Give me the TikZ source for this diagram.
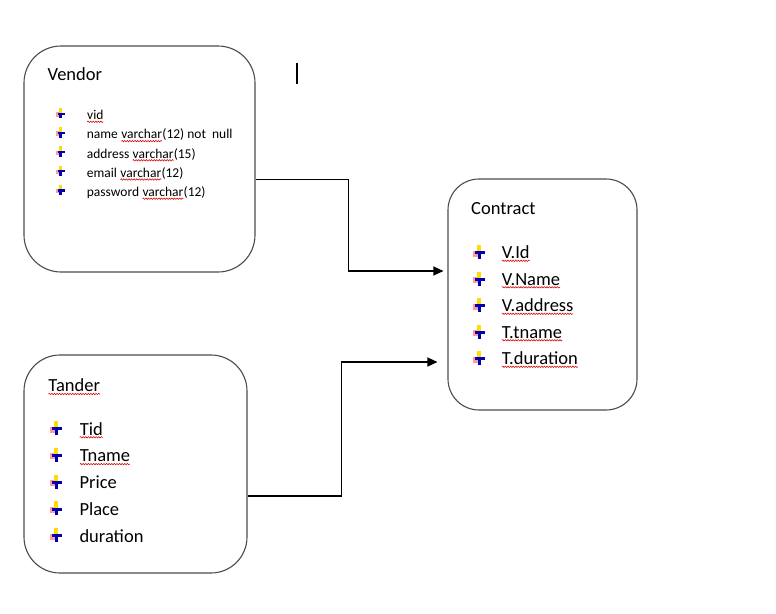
\documentclass[tikz,border=0pt]{standalone}
\usepackage{fontspec}
\setmainfont{Carlito}
\usetikzlibrary{arrows.meta,decorations.pathmorphing}
\tikzset{
  box/.style={draw=black!70, line width=1.1pt, inner sep=0pt},
  conn/.style={draw=black, line width=1.3pt},
  tip/.style={-{Triangle[length=10pt,width=9pt]}},
  big/.style={font=\fontsize{18.5}{22}\selectfont, anchor=base west, inner sep=0pt},
  small/.style={font=\fontsize{13.5}{16}\selectfont, anchor=base west, inner sep=0pt},
  sqline/.style={draw=red!85!black, line width=0.55pt, decorate,
    decoration={snake, amplitude=0.7pt, segment length=2.6pt}},
  bul/.pic={
    \fill[red!45, opacity=0.85] (-6.5,-2) rectangle (-1.5,4);
    \fill[yellow!80!orange] (-1.6,-7.5) rectangle (1.6,0);
    \fill[blue!70!black] (-4,-1.3) rectangle (5.5,1.7);
    \fill[blue!70!black] (-1.5,0) rectangle (1.5,6.5);
  }
}
\newcommand\sq[1]{\tikz[baseline=(sqw.base)]{\node[inner sep=0pt,outer sep=0pt,anchor=base] (sqw) {#1};\path[sqline] ([yshift=-2.3pt]sqw.base west) -- ([yshift=-2.3pt]sqw.base east);}}
\begin{document}
\begin{tikzpicture}[x=1pt,y=-1pt]
\useasboundingbox[fill=white] (0,0) rectangle (776,613);

% boxes
\node[box, rounded corners=37pt, minimum width=231pt, minimum height=226pt] (vendor) at (139.5,159) {};
\node[box, rounded corners=31pt, minimum width=189pt, minimum height=231pt] (contract) at (542.5,294.5) {};
\node[box, rounded corners=36pt, minimum width=223pt, minimum height=218pt] (tander) at (135.5,464) {};

% text cursor
\draw[line width=1.6pt] (297,63) -- (297,84);

% Vendor
\node[big] (vtitle) at (47.5,80.7) {Vendor};
\foreach \t/\yy [count=\i] in {{\sq{vid}}/119.5,{name \sq{varchar}(12) not\ \ null}/138.8,{address \sq{varchar}(15)}/158,{email \sq{varchar}(12)}/177.2,{password \sq{varchar}(12)}/196.4}{
  \pic[scale=0.75] at (60.5,\yy-6) {bul};
  \node[small] (v\i) at (86.7,\yy) {\t};
}

% Contract
\node[big] (ctitle) at (471,214.5) {Contract};
\foreach \t/\yy [count=\i] in {{\sq{V.Id}}/258.5,{\sq{V.Name}}/285,{\sq{V.address}}/311.5,{\sq{T.tname}}/338,{\sq{T.duration}}/364.5}{
  \pic at (479,\yy-6) {bul};
  \node[big] (c\i) at (501.5,\yy) {\t};
}

% Tander
\node[big] (ttitle) at (48,391.7) {\sq{Tander}};
\foreach \t/\yy [count=\i] in {{\sq{Tid}}/435,{\sq{Tname}}/461.8,{Price}/488.6,{Place}/515.4,{duration}/542.2}{
  \pic at (56,\yy-6.5) {bul};
  \node[big] (t\i) at (79.3,\yy) {\t};
}

% connectors
\draw[conn,tip] ([yshift=-20.5pt]vendor.east) -| ([xshift=-99pt,yshift=23.5pt]contract.west) -- ([xshift=-4pt,yshift=23.5pt]contract.west);
\draw[conn,tip] ([yshift=-32pt]tander.east) -| ([xshift=-106pt,yshift=-67.5pt]contract.west) -- ([xshift=-10pt,yshift=-67.5pt]contract.west);
\end{tikzpicture}
\end{document}
